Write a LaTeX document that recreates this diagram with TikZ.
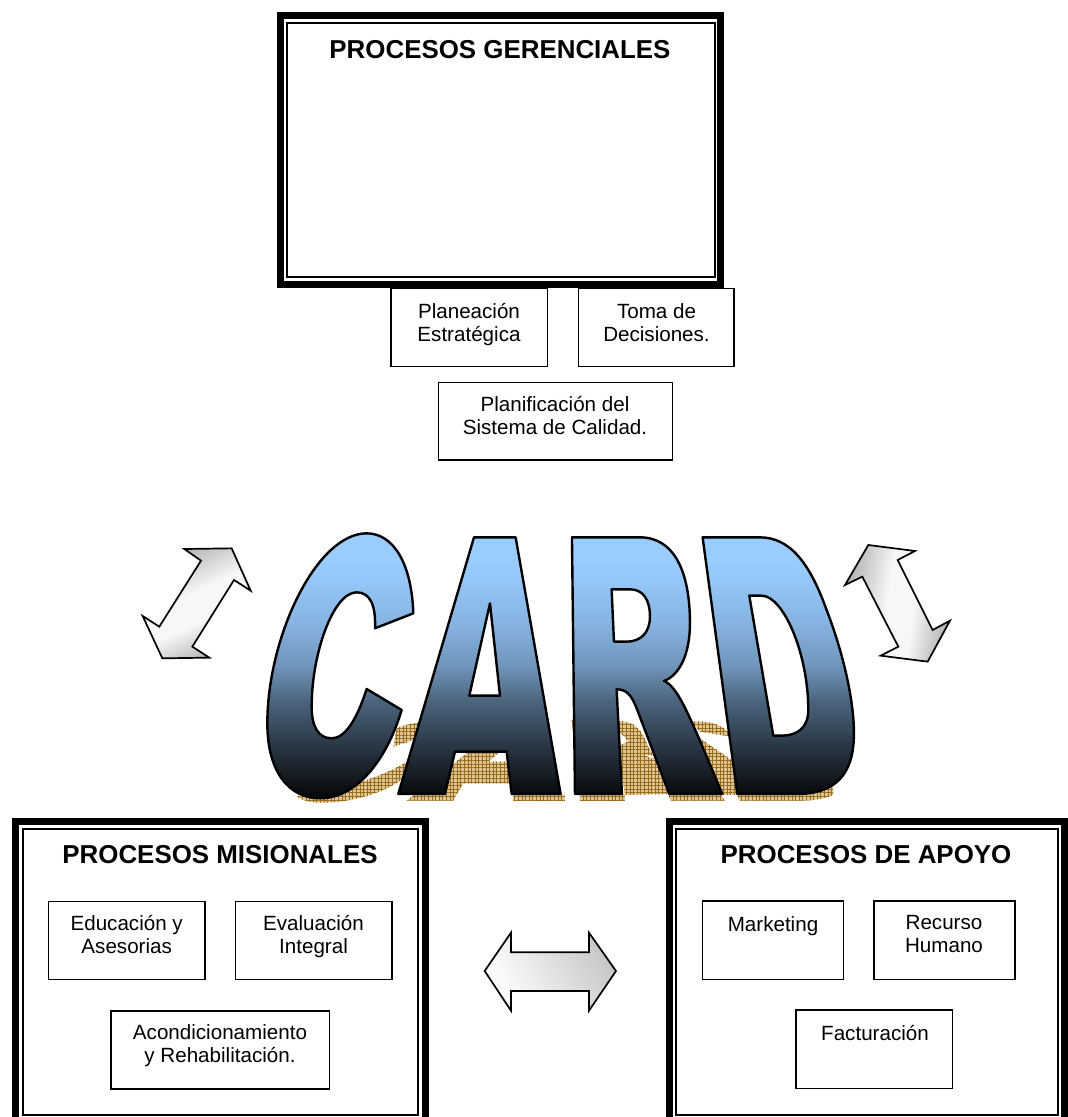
\documentclass[tikz,border=0pt]{standalone}
\usepackage{fontspec}
\setmainfont{Liberation Sans}
\usetikzlibrary{patterns,patterns.meta}
\definecolor{cardtop}{HTML}{99CCFF}
\pgfdeclareverticalshading{cardfill}{100bp}{
 color(0bp)=(black!97!cardtop);
 color(25bp)=(black!97!cardtop);
 color(33bp)=(black!78!cardtop);
 color(43bp)=(black!52!cardtop);
 color(50bp)=(black!27!cardtop);
 color(58bp)=(black!12!cardtop);
 color(66bp)=(black!3!cardtop);
 color(70bp)=(cardtop);
 color(100bp)=(cardtop)}
\pgfdeclareverticalshading{arrowfill}{100bp}{
 color(0bp)=(black!30);
 color(25bp)=(black!30);
 color(42bp)=(black!3);
 color(55bp)=(black!3);
 color(75bp)=(black!30);
 color(100bp)=(black!30)}
\pgfdeclareverticalshading{arrowfilltwo}{100bp}{
 color(0bp)=(black!0);
 color(30bp)=(black!2);
 color(75bp)=(black!22);
 color(100bp)=(black!22)}
\newcommand{\tallstrut}{\rule{0pt}{16pt}}
\definecolor{cardshadow}{HTML}{DCC69A}
\definecolor{cardgrid}{HTML}{9A6C18}
\tikzset{
 plainbox/.style={draw=black,fill=white,line width=1.8pt,inner sep=0pt},
 thickedge/.style={draw=black,line width=7pt,inner sep=0pt},
 thinedge/.style={draw=black,line width=2pt,inner sep=0pt},
 lbl/.style={inner sep=0pt,anchor=north,align=center,font=\fontsize{20.6}{23.6}\selectfont,execute at begin node=\tallstrut},
 ttl/.style={inner sep=0pt,anchor=base,font=\fontsize{25.9}{30}\selectfont\bfseries},
 letterline/.style={draw=black,line width=2.4pt,line join=round},
 arrowline/.style={draw=black,line width=1.7pt,line join=miter},
 shadowfill/.style={preaction={fill=cardshadow},
   preaction={pattern={Lines[angle=0,distance=3.6pt,line width=1pt]},pattern color=cardgrid},
   pattern={Lines[angle=90,distance=3.6pt,line width=1pt]},pattern color=cardgrid},
}
\newcommand{\bx}[6]{\node[#6,minimum width={#4-#2},minimum height={#5-#3}] (#1) at ({(#2+#4)/2},{(#3+#5)/2}) {};}
\begin{document}
\begin{tikzpicture}[x=1pt,y=-1pt]
\clip (0,0) rectangle (1068,1117);
% frames
\bx{gerOut}{280.5}{15.5}{720.5}{284.5}{thickedge}
\bx{gerIn}{287}{22.5}{714.5}{277}{thinedge}
\bx{misOut}{15.5}{821.5}{425}{1125}{thickedge}
\bx{misIn}{22.5}{828.5}{418}{1114.5}{thinedge}
\bx{apoOut}{669.5}{821.5}{1064.5}{1125}{thickedge}
\bx{apoIn}{676}{828.5}{1057.5}{1115}{thinedge}
% titles
\node[ttl] (gerT) at (500,58) {PROCESOS GERENCIALES};
\node[ttl] (misT) at (220,863) {PROCESOS MISIONALES};
\node[ttl] (apoT) at (866,863) {PROCESOS DE APOYO};
% small boxes
\bx{plan}{391}{288.5}{547.5}{366.5}{plainbox}
\bx{toma}{578.5}{288.5}{734}{366.5}{plainbox}
\bx{sist}{438.5}{382.5}{672.5}{460}{plainbox}
\bx{educ}{48.5}{901.5}{205}{979.5}{plainbox}
\bx{eval}{235.5}{901.5}{392}{979.5}{plainbox}
\bx{acon}{111}{1011}{329.5}{1089}{plainbox}
\bx{mark}{702.5}{901}{843.5}{979.5}{plainbox}
\bx{recu}{874}{901}{1015}{979.5}{plainbox}
\bx{fact}{796}{1010}{952.5}{1088.5}{plainbox}
\node[lbl] (planT) at (469,303) {Planeación\\Estratégica};
\node[lbl] (tomaT) at (656.5,303) {Toma de\\Decisiones.};
\node[lbl] (sistT) at (555,396) {Planificación del\\Sistema de Calidad.};
\node[lbl] (educT) at (126.7,915) {Educación y\\Asesorias};
\node[lbl] (evalT) at (313.5,915) {Evaluación\\Integral};
\node[lbl] (aconT) at (220,1024) {Acondicionamiento\\y Rehabilitación.};
\node[lbl] (markT) at (773,915) {Marketing};
\node[lbl] (recuT) at (944,915) {Recurso\\Humano};
\node[lbl] (factT) at (875,1024) {Facturación};
% side arrows
\begin{scope}[shift={(120,530)},x=0.3333pt,y=-0.3333pt]
\path[arrowline,shading=arrowfill,shading angle=25] (335,55)--(392,182)--(342,150)--(217,350)--(268,383)--(127,385)--(68,258)--(118,290)--(243,92)--(193,57)--cycle;
\end{scope}
\begin{scope}[shift={(830,530)},x=0.3333pt,y=-0.3333pt]
\path[arrowline,shading=arrowfill,shading angle=80] (115,45)--(255,63)--(203,90)--(308,300)--(360,272)--(293,395)--(152,377)--(205,350)--(97,140)--(45,165)--cycle;
\end{scope}
\begin{scope}[shift={(470,920)},x=0.3333pt,y=-0.3333pt]
\path[arrowline,shading=arrowfilltwo,shading angle=-60] (123,38)--(123,97)--(357,97)--(357,38)--(438,153)--(357,272)--(357,213)--(123,213)--(123,272)--(44,153)--cycle;
\end{scope}
% CARD with its shadow
\begin{scope}[shift={(250,520)},x=0.3333pt,y=-0.3333pt]
\path[shadowfill] (140,830) .. controls (280,810) and (400,770) .. (480,720) -- (480,760) .. controls (400,830) and (280,850) .. (200,848) .. controls (175,846) and (155,840) .. (140,830) -- cycle;
\path[shadowfill] (440,625) .. controls (470,612) and (490,610) .. (515,607) -- (490,660) -- (430,680) -- cycle;
\path[shadowfill] (470,842) -- (650,700) -- (745,700) -- (715,725) -- (790,725) -- (790,790) -- (640,790) -- (610,842) -- cycle;
\path[shadowfill] (790,825) rectangle (945,842);
\path[shadowfill] (965,600) -- (980,600) -- (980,665) -- (972,660) -- cycle;
\path[shadowfill] (990,822) rectangle (1125,842);
\path[shadowfill] (1105,603) .. controls (1150,603) and (1175,625) .. (1195,680) -- (1270,822) -- (1125,825) -- (1108,720) -- cycle;
\path[shadowfill] (1255,822) -- (1410,822) -- (1425,842) -- (1262,842) -- cycle;
\path[shadowfill] (1320,605) .. controls (1390,600) and (1430,620) .. (1450,655) -- (1445,650) -- (1350,635) -- cycle;
\path[shadowfill] (1350,655) -- (1445,720) -- (1465,825) -- (1420,825) -- (1350,690) -- cycle;
\path[shadowfill] (1460,822) -- (1650,810) -- (1750,800) -- (1750,825) .. controls (1720,838) and (1690,842) .. (1640,842) -- (1470,842) -- cycle;
\fill[white] (1108,640) .. controls (1120,645) and (1128,655) .. (1132,665) -- (1110,675) -- cycle;
\fill[white] (1185,705) -- (1215,708) -- (1205,715) -- cycle;
\path[letterline,even odd rule,shading=cardfill]
 (490,280) .. controls (485,130) and (430,40) .. (350,40) .. controls (200,40) and (52,350) .. (52,610) .. controls (52,760) and (120,835) .. (210,835) .. controls (320,835) and (410,720) .. (455,570) -- (350,507) .. controls (320,600) and (285,655) .. (245,655) .. controls (205,655) and (185,620) .. (185,560) .. controls (185,400) and (250,217) .. (320,217) .. controls (360,217) and (378,255) .. (375,325) -- cycle
 (672,52) -- (797,52) -- (932,822) -- (785,822) -- (770,695) -- (615,695) -- (585,822) -- (445,822) -- cycle
 (720,250) -- (750,527) -- (658,527) -- cycle
 (966,52) -- (1170,52) .. controls (1270,52) and (1320,150) .. (1320,310) .. controls (1320,400) and (1290,465) .. (1242,483) .. controls (1285,500) and (1320,590) .. (1417,822) -- (1258,822) -- (1162,570) .. controls (1145,525) and (1130,508) .. (1100,508) -- (1116,822) -- (975,822) -- cycle
 (1085,208) -- (1140,208) .. controls (1180,208) and (1200,240) .. (1200,290) .. controls (1200,340) and (1170,365) .. (1130,365) -- (1092,365) -- cycle
 (1358,52) -- (1530,52) .. controls (1620,52) and (1680,130) .. (1730,270) .. controls (1780,400) and (1812,540) .. (1812,640) .. controls (1812,760) and (1760,822) .. (1640,822) -- (1462,822) -- cycle
 (1498,227) -- (1535,227) .. controls (1600,227) and (1675,400) .. (1675,570) .. controls (1675,625) and (1640,647) .. (1595,647) -- (1570,647) -- cycle;
\end{scope}
\end{tikzpicture}
\end{document}
